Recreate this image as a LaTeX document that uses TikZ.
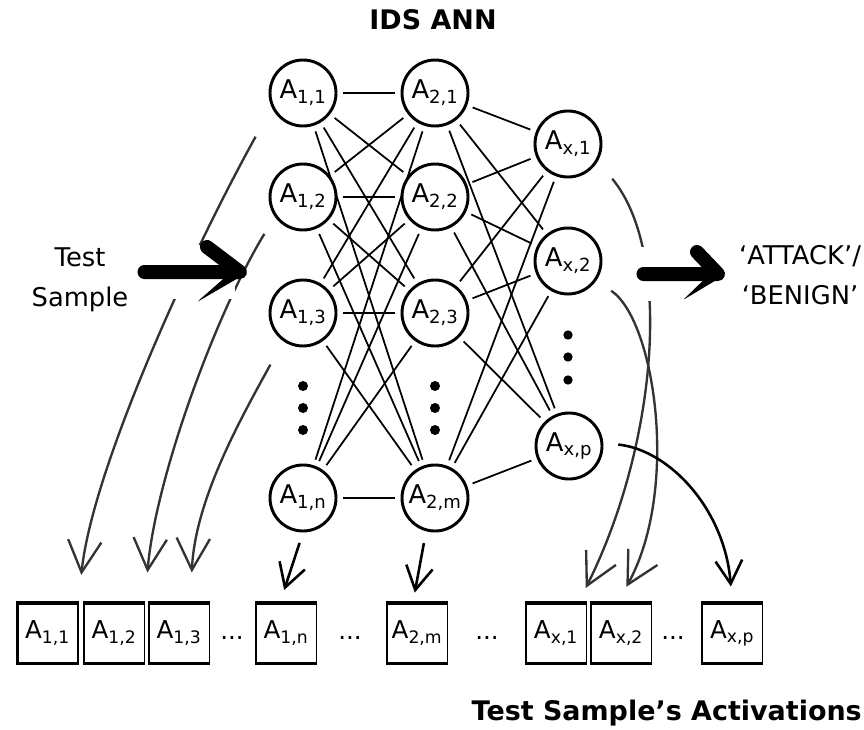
\documentclass[tikz,border=0pt]{standalone}
\usepackage{fontspec}
\setmainfont{DejaVu Sans}
\usetikzlibrary{arrows.meta,backgrounds}

\tikzset{
	neuron/.style={circle, draw, fill=white, line width=2.5pt, minimum size=1.98cm, inner sep=0pt, font=\fontsize{22}{26}\selectfont},
	actbox/.style={rectangle, draw, fill=white, line width=1pt, minimum width=1.83cm, minimum height=1.86cm, inner sep=0pt, font=\fontsize{21}{25}\selectfont,
		path picture={
			\draw[line width=5pt] (path picture bounding box.north west) -- (path picture bounding box.north east);
			\draw[line width=4pt] (path picture bounding box.south west) -- (path picture bounding box.south east);
			\draw[line width=3pt] (path picture bounding box.south west) -- (path picture bounding box.north west);}},
	weight/.style={line width=1.5pt, shorten <=5pt, shorten >=5pt},
	sketch/.style={draw=black!80, line width=2pt, -{Straight Barb[length=0.95cm, width=1cm]}},
	pointer/.style={draw=black, line width=2.2pt, -{Straight Barb[length=0.7cm, width=0.8cm]}},
	fat/.style={line width=0.42cm, line cap=round, line join=round},
	halo/.style={draw=white, line width=1.6cm},
	heading/.style={font=\fontsize{23}{28}\selectfont\bfseries, inner sep=0pt},
	caption/.style={font=\fontsize{22}{34}\selectfont, align=center},
	gap/.style={font=\fontsize{21}{25}\selectfont}
}

\begin{document}
\begin{tikzpicture}[x=0.03cm, y=-0.03cm]
	\useasboundingbox (0,0) rectangle (864,730);

% titles
	\node[heading, anchor=base] (ann) at (433,30) {IDS ANN};
	\node[heading, anchor=base east] (acts) at (862,720) {Test Sample’s Activations};
	\node[caption] (sample) at (80,280) {Test\\Sample};
	\node[caption] (result) at (800,275) {‘ATTACK’/\\‘BENIGN’};

% neurons
	\node[neuron] (l11) at (303,93) {A\textsubscript{1,1}};
	\node[neuron] (l12) at (303,197) {A\textsubscript{1,2}};
	\node[neuron] (l13) at (303,313) {A\textsubscript{1,3}};
	\node[neuron] (l1n) at (303,498) {A\textsubscript{1,n}};
	\node[neuron] (l21) at (435,93) {A\textsubscript{2,1}};
	\node[neuron] (l22) at (435,197) {A\textsubscript{2,2}};
	\node[neuron] (l23) at (435,313) {A\textsubscript{2,3}};
	\node[neuron] (l2m) at (435,498) {A\textsubscript{2,m}};
	\node[neuron] (lx1) at (568,144) {A\textsubscript{x,1}};
	\node[neuron] (lx2) at (568,261) {A\textsubscript{x,2}};
	\node[neuron] (lxp) at (569,446) {A\textsubscript{x,p}};

	\fill (303,386) circle[radius=0.15cm] (303,408) circle[radius=0.15cm] (303,430) circle[radius=0.15cm];
	\fill (435,386) circle[radius=0.15cm] (435,408) circle[radius=0.15cm] (435,430) circle[radius=0.15cm];
	\fill (568,335) circle[radius=0.14cm] (568,357) circle[radius=0.14cm] (568,380) circle[radius=0.14cm];

% weights
	\begin{pgfonlayer}{background}
	\foreach \a in {l11,l12,l13,l1n}
		\foreach \b in {l21,l22,l23,l2m}
			\draw[weight] (\a) -- (\b);
	\foreach \a in {l21,l22,l23,l2m}
		\foreach \b in {lx1,lx2,lxp}
			\draw[weight] (\a) -- (\b);
	\end{pgfonlayer}

% activations
	\node[actbox] (b11) at (47.5,633) {A\textsubscript{1,1}};
	\node[actbox] (b12) at (114,633) {A\textsubscript{1,2}};
	\node[actbox] (b13) at (179,633) {A\textsubscript{1,3}};
	\node[gap] (d1) at (232,638) {...};
	\node[actbox] (b1n) at (286,633) {A\textsubscript{1,n}};
	\node[gap] (d2) at (350,638) {...};
	\node[actbox] (b2m) at (417,633) {A\textsubscript{2,m}};
	\node[gap] (d3) at (487,638) {...};
	\node[actbox] (bx1) at (556,633) {A\textsubscript{x,1}};
	\node[actbox] (bx2) at (621,633) {A\textsubscript{x,2}};
	\node[gap] (d4) at (673,638) {...};
	\node[actbox] (bxp) at (732,633) {A\textsubscript{x,p}};

% copy activations down
	\draw[sketch, shorten <=1cm, shorten >=0.8cm] (l11.205) .. controls (190,255) and (92,470) .. (b11.north east);
	\draw[sketch, shorten <=0.6cm, shorten >=0.87cm] (l12.215) .. controls (215,315) and (155,480) .. (b12.north east);
	\draw[sketch, shorten <=0.8cm, shorten >=0.87cm] (l13.235) .. controls (240,420) and (195,500) .. (b13.70);
	\draw[pointer, shorten <=0.33cm, shorten >=0.36cm] (l1n.south) -- (b1n.100);
	\draw[pointer, shorten <=0.36cm, shorten >=0.27cm] (l2m.255) -- (b2m.97);
	\draw[sketch, shorten <=0.68cm, shorten >=0.45cm] (lx1.-30) .. controls (675,255) and (655,450) .. (bx1.54);
	\draw[sketch, shorten <=0.54cm, shorten >=0.5cm] (lx2.-35) .. controls (655,320) and (680,490) .. (bx2.95);
	\draw[pointer, shorten <=0.45cm, shorten >=0.45cm] (lxp.5) .. controls (670,450) and (725,510) .. (bxp.north);

% input and output arrows
	\coordinate (intip) at (240,272);
	\coordinate (outtip) at (718,274);
	\draw[halo, shorten <=0.1cm] (sample.east |- intip) -- ([shift={(-5,0)}]intip);
	\draw[halo, shorten <=1cm] (lx2.east |- outtip) -- ([shift={(-5,0)}]outtip);
	\draw[fat, shorten <=0.36cm] (sample.east |- intip) -- (intip) -- +(-33,-25);
	\fill[rounded corners=2pt] ([shift={(-2,-6)}]intip) -- ([shift={(-43,30)}]intip) -- ([shift={(0,5)}]intip) -- cycle;
	\draw[fat, shorten <=1.23cm] (lx2.east |- outtip) -- (outtip) -- +(-21,-22);
	\fill[rounded corners=2pt] ([shift={(-2,-6)}]outtip) -- ([shift={(-35,26)}]outtip) -- ([shift={(0,5)}]outtip) -- cycle;

\end{tikzpicture}
\end{document}
